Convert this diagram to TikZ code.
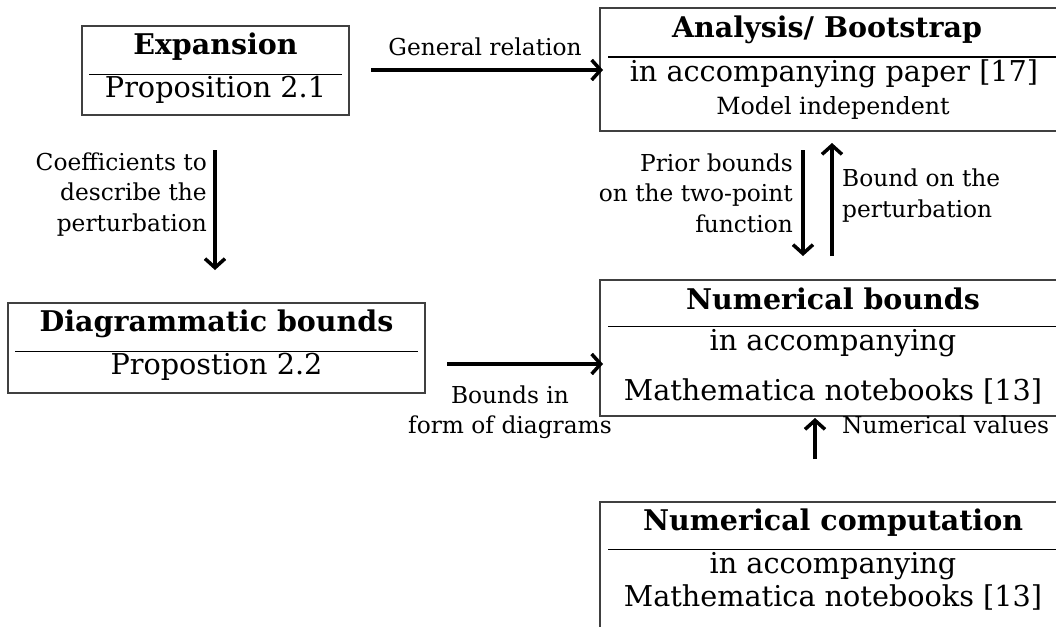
\documentclass[tikz,border=0pt]{standalone}
\usepackage{fontspec}
\setmainfont{DejaVu Serif}
\usetikzlibrary{arrows.meta}
\tikzset{
  box/.style={draw=black!75, line width=1.3pt, inner sep=0pt},
  divider/.style={draw=black, line width=1pt},
  big/.style={font=\fontsize{28.7}{33}\selectfont, inner sep=0pt},
  ttl/.style={font=\fontsize{28.5}{33}\selectfont\bfseries, inner sep=0pt},
  mid/.style={font=\fontsize{23.7}{28}\selectfont, inner sep=0pt},
  lbl/.style={font=\fontsize{23.3}{30.5}\selectfont, inner sep=0pt},
  flow/.style={line width=4.5pt, -{Straight Barb[length=9pt,width=20pt,line width=3.5pt]}},
}
\begin{document}
\begin{tikzpicture}[x=1pt,y=-1pt]
\clip (0,0) rectangle (1056,626);
\fill[white] (0,0) rectangle (1056,626);
% boxes
\node[box, minimum width=267pt, minimum height=89pt] (exp) at (215.5,70.5) {};
\node[box, minimum width=462pt, minimum height=123pt] (ana) at (831,69.5) {};
\node[box, minimum width=417pt, minimum height=90pt] (dia) at (216.5,348) {};
\node[box, minimum width=462pt, minimum height=136pt] (nb) at (831,348) {};
\node[box, minimum width=462pt, minimum height=138pt] (nc) at (831,571) {};
% dividers
\draw[divider] (89,74) -- (342,74);
\draw[divider] (608,57) -- (1062,57);
\draw[divider] (15,351) -- (418,351);
\draw[divider] (608,326) -- (1062,326);
\draw[divider] (608,549) -- (1062,549);
% texts
\node[ttl] (expT) at (215.5,47) {Expansion};
\node[big] (expS) at (215.5,90) {Proposition 2.1};
\node[ttl] (anaT) at (827,30) {Analysis/ Bootstrap};
\node[big] (anaS) at (834,74) {in accompanying paper [17]};
\node[mid] (anaM) at (833,108) {Model independent};
\node[ttl] (diaT) at (216.5,324) {Diagrammatic bounds};
\node[big] (diaS) at (216.5,367) {Propostion 2.2};
\node[ttl] (nbT) at (833,299) {Numerical bounds};
\node[big] (nbS1) at (833,343) {in accompanying};
\node[big] (nbS2) at (833,391) {Mathematica notebooks [13]};
\node[ttl] (ncT) at (833,523) {Numerical computation};
\node[big] (ncS1) at (833,566) {in accompanying};
\node[big] (ncS2) at (833,597) {Mathematica notebooks [13]};
% arrow endpoints
\coordinate (g1) at (371,70);
\coordinate (g2) at (603,70);
\coordinate (c1) at (215,150);
\coordinate (c2) at (215,270);
\coordinate (b1) at (447,364);
\coordinate (b2) at (603,364);
\coordinate (p1) at (803,150);
\coordinate (p2) at (803,256);
\coordinate (q1) at (832,256);
\coordinate (q2) at (832,143);
\coordinate (n1) at (815,459);
\coordinate (n2) at (815,418);
% arrows
\draw[flow] (g1) -- (g2);
\draw[flow] (c1) -- (c2);
\draw[flow] (b1) -- (b2);
\draw[flow] (p1) -- (p2);
\draw[flow] (q1) -- (q2);
\draw[flow] (n1) -- (n2);
% labels
\node[lbl] (gl) at (485,47) {General relation};
\node[lbl, align=right, anchor=east] (cl) at (207,194.5) {Coefficients to\\describe the\\perturbation};
\node[lbl, align=center] (bl) at (510,412) {Bounds in\\form of diagrams};
\node[lbl, align=right, anchor=east] (pl) at (793,193) {Prior bounds\\on the two-point\\function};
\node[lbl, align=left, anchor=west] (ql) at (842,195.5) {Bound on the\\perturbation};
\node[lbl, anchor=west] (nl) at (842,425) {Numerical values};
\end{tikzpicture}
\end{document}
